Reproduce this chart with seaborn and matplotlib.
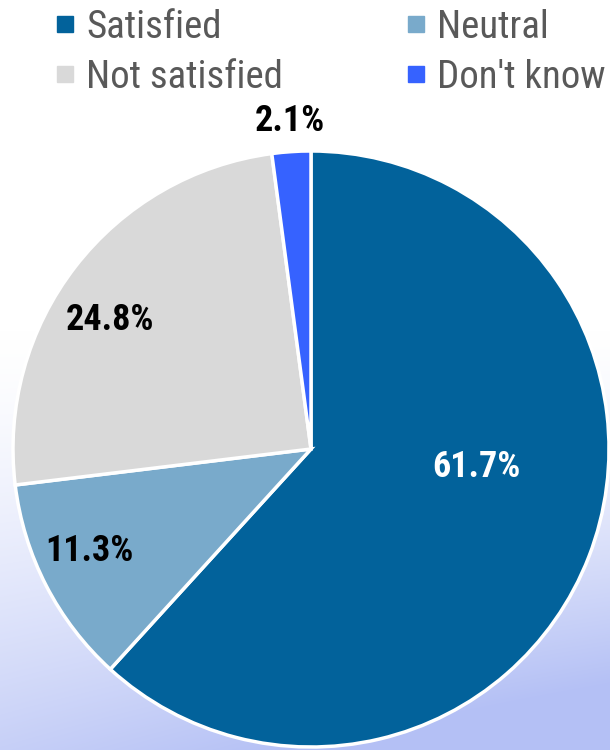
import numpy as np
import matplotlib
matplotlib.use("Agg")
import matplotlib.pyplot as plt
from matplotlib.lines import Line2D
from matplotlib import font_manager
import seaborn as sns

# ---- data ----
categories = ["Satisfied", "Neutral", "Not satisfied", "Don't know"]
values = [61.7, 11.3, 24.8, 2.1]
colors = ["#02629b", "#79aacb", "#d9d9d9", "#3662ff"]
label_colors = ["white", "black", "black", "black"]

sns.set_theme(style="white")
names = {f.name for f in font_manager.fontManager.ttflist}
prefs = ["Liberation Sans Narrow", "Arial Narrow", "Roboto Condensed",
         "Archivo Narrow", "Asap Condensed", "Liberation Sans"]
narrow = next(n for n in prefs if n in names or n == "Liberation Sans")
plt.rcParams["font.family"] = [narrow, "DejaVu Sans"]

W, H = 610, 750
fig = plt.figure(figsize=(W / 100, H / 100), dpi=100)

# background gradient
bg = fig.add_axes([0, 0, 1, 1], zorder=-10)
yy, xx = np.mgrid[0:H, 0:W]
t = np.clip((yy - 330 + 0.25 * (xx - W / 2) * ((yy - 330) / 420)) / 420.0, 0, 1) ** 1.4
c0 = np.array([1.0, 1.0, 1.0])
c1 = np.array([180, 192, 245]) / 255.0
img = c0[None, None, :] * (1 - t[..., None]) + c1[None, None, :] * t[..., None]
bg.imshow(img, aspect="auto", extent=[0, 1, 0, 1], origin="upper")
bg.axis("off")

# pie
cx, cy, r = 311, 449, 298
ax = fig.add_axes([(cx - r) / W, (H - cy - r) / H, 2 * r / W, 2 * r / H])
ax.set_facecolor("none")
_vals = iter(values)
wedges, texts, autotexts = ax.pie(
    values, colors=colors, startangle=90, counterclock=False,
    autopct=lambda p: f"{next(_vals):.1f}%", pctdistance=0.6,
    wedgeprops=dict(edgecolor="white", linewidth=2.5, clip_on=False),
    textprops=dict(fontsize=26, fontweight="bold"),
)
ax.set_xlim(-1, 1)
ax.set_ylim(-1, 1)
ax.set_aspect("equal")
ax.axis("off")

label_pos = [(0.554, -0.06), (-0.742, -0.342), (-0.674, 0.433), (-0.070, 1.10)]
for at, p, lc in zip(autotexts, label_pos, label_colors):
    at.set_position(p)
    at.set_color(lc)
    at.set_ha("center")
    at.set_va("center")

# legend (row-major: Satisfied, Neutral / Not satisfied, Don't know)
order = [0, 2, 1, 3]
handles = [Line2D([], [], marker="s", linestyle="none", markersize=12.2,
                  color=colors[i], label=categories[i]) for i in order]
fig.legend(handles=handles, ncol=2, loc="upper left",
           bbox_to_anchor=(56 / W, 1 - 8.5 / H), frameon=False,
           fontsize=28, labelcolor="#595959", handlelength=0.44,
           handletextpad=0.33, columnspacing=3.2, labelspacing=0.35,
           borderpad=0, borderaxespad=0)

fig.savefig("out.png", dpi=100)
